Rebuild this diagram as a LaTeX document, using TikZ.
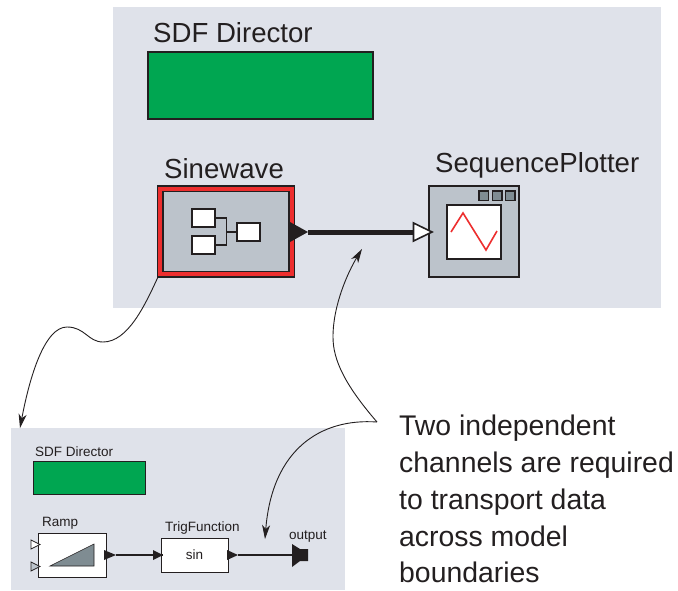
\documentclass[tikz,border=0pt]{standalone}
\usepackage{fontspec}
\setmainfont{Liberation Sans}
\usetikzlibrary{arrows.meta}
\definecolor{panel}{HTML}{DFE2EA}
\definecolor{actor}{HTML}{BCC3CB}
\definecolor{dirgreen}{HTML}{00A651}
\definecolor{dark}{HTML}{231F20}
\definecolor{redline}{HTML}{ED2E2E}
\definecolor{rampgrey}{HTML}{7F8C92}
\tikzset{
  box/.style = {draw=dark, rectangle, inner sep=0pt, outer sep=0pt, minimum width=#1},
  box/.default = {10pt},
  biglabel/.style = {inner sep=0pt, anchor=base west, text=dark, font=\fontsize{27.6}{27.6}\selectfont},
  smalllabel/.style = {inner sep=0pt, anchor=base west, text=dark, font=\fontsize{13.5}{13.5}\selectfont},
  calltext/.style = {inner sep=0pt, anchor=base west, text=dark, font=\fontsize{28.4}{28.4}\selectfont},
  curve/.style = {draw=dark, line width=0.9pt, -{Stealth[length=14pt,width=8pt,inset=4pt]}},
}
\begin{document}
\begin{tikzpicture}[x=1pt, y=-1pt]
\useasboundingbox (0,0) rectangle (678,590);
% panels
\node[fill=panel, minimum width=548pt, minimum height=301pt, inner sep=0pt] (top) at (387,157.5) {};
\node[fill=panel, minimum width=334pt, minimum height=162pt, inner sep=0pt] (bottom) at (178,509) {};
% top model
\node[biglabel] (dirlabel) at (153,42) {SDF Director};
\node[box=225pt, fill=dirgreen, line width=1.5pt, minimum height=67pt] (director) at (260.5,85.5) {};
\node[biglabel] (sinelabel) at (164,178) {Sinewave};
\node[box=137pt, fill=redline, line width=1.5pt, minimum height=91pt] (sinewave) at (226,231.5) {};
\node[box=126pt, fill=actor, line width=1.1pt, minimum height=80pt] (sineinner) at (226,231.5) {};
\node[box=23pt, fill=white, line width=1.7pt, minimum height=18pt] (b1) at (203.5,218) {};
\node[box=23pt, fill=white, line width=1.7pt, minimum height=18pt] (b2) at (203.5,245) {};
\node[box=23pt, fill=white, line width=1.7pt, minimum height=18pt] (b3) at (248.5,232) {};
\coordinate (junction) at (226.5,232);
\draw[dark, line width=1.5pt] (b1.east) -| (junction) |- (b2.east);
\draw[dark, line width=1.5pt] (junction) -- (b3.west);
\node[biglabel] (plotlabel) at (435,172) {SequencePlotter};
\node[box=90pt, fill=actor, line width=1.7pt, minimum height=91pt] (plotter) at (474,231.5) {};
\node[box=54pt, fill=white, line width=1.8pt, minimum height=54pt] (screen) at (474,232) {};
\foreach \bx in {483.5,497,510}
  \node[box=9.5pt, fill=rampgrey, line width=1.5pt, minimum height=9.5pt] at (\bx,195.5) {};
\draw[redline, line width=1.6pt] (451,232) -- (463,213) -- (486,250) -- (497,231);
% connection between the actors
\coordinate (outtip) at (308,232);
\coordinate (intip) at (432,232);
\fill[dark] (290,222) -- (outtip) -- (290,242) -- cycle;
\draw[dark, line width=5pt] (outtip) -- (415,232);
\draw[dark, line width=1.6pt, fill=white] (413.5,223) -- (intip) -- (413.5,241) -- cycle;
% bottom model
\node[smalllabel] (subdirlabel) at (35,456) {SDF Director};
\node[box=112pt, fill=dirgreen, line width=0.8pt, minimum height=33pt] (subdirector) at (89,477.5) {};
\node[smalllabel] (ramplabel) at (42,526) {Ramp};
\node[box=68pt, fill=white, line width=0.8pt, minimum height=44pt] (ramp) at (72.5,555) {};
\fill[rampgrey, draw=dark, line width=0.6pt] (50,566) -- (94,544) -- (94,566) -- cycle;
\draw[dark, fill=white, line width=0.8pt] (31,540) -- (40,544.5) -- (31,549) -- cycle;
\draw[dark, fill=actor, line width=0.8pt] (31,562) -- (40,566.5) -- (31,571) -- cycle;
\node[smalllabel] (triglabel) at (165,531) {TrigFunction};
\node[box=67pt, fill=white, line width=0.8pt, minimum height=34pt, text=dark, font=\fontsize{13.5}{13.5}\selectfont] (trig) at (194.5,555) {sin};
\node[smalllabel] (outlabel) at (289,539) {output};
\coordinate (rampout) at (116,555);
\coordinate (trigin) at (163,555);
\coordinate (trigout) at (238,555);
\coordinate (outport) at (292,555);
\draw[dark, line width=1.8pt] (rampout) -- (trigin);
\fill[dark] (104,550) -- (rampout) -- (104,560) -- cycle;
\fill[dark] (153,550) -- (trigin) -- (153,560) -- cycle;
\draw[dark, line width=1.4pt] (trigout) -- (outport);
\fill[dark] (227,550) -- (trigout) -- (227,560) -- cycle;
\fill[dark] (292,544) -- (300,549) -- (308,549) -- (308,561) -- (300,561) -- (292,567) -- cycle;
% callout
\node[calltext] (t1) at (399,435) {Two independent};
\node[calltext] (t2) at (399,472) {channels are required};
\node[calltext] (t3) at (399,509) {to transport data};
\node[calltext] (t4) at (399,546) {across model};
\node[calltext] (t5) at (399,582) {boundaries};
\coordinate (fork) at (377,422);
\coordinate (zoomstart) at (158,277);
\coordinate (zoomend) at (20,428);
\coordinate (wiretip) at (362,249);
\coordinate (subtip) at (265,539);
% curved arrows
\draw[curve] (zoomstart) .. controls (145,305) and (128,342) .. (103,342) .. controls (88,342) and (85,327) .. (67,327) .. controls (45,327) and (30,375) .. (zoomend);
\draw[curve] (fork) .. controls (345,385) and (333,360) .. (333,337) .. controls (333,305) and (348,272) .. (wiretip);
\draw[curve] (fork) .. controls (320,418) and (272,450) .. (subtip);
\end{tikzpicture}
\end{document}
